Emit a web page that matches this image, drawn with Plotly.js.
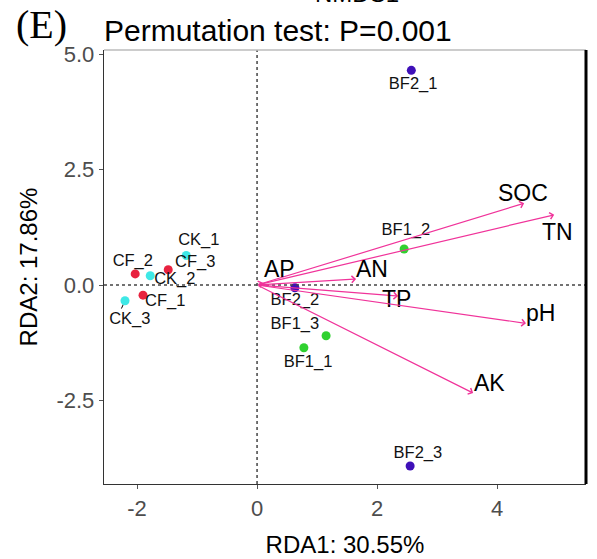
<!DOCTYPE html>
<html>
<head>
<meta charset="utf-8">
<script src="https://cdn.plot.ly/plotly-3.0.1.min.js"></script>
<style>html,body{margin:0;padding:0;background:#fff;}#chart{width:597px;height:559px;}</style>
</head>
<body>
<div id="chart"></div>
<script>
// ---- sample scores ----
const groups = ["BF2", "BF1", "CK", "CF"];
const groupColors = {BF2: "#3f10b8", BF1: "#2fd12f", CK: "#3ee8e6", CF: "#e8223f"};
const sampleNames = ["BF2_1","BF2_2","BF2_3","BF1_1","BF1_2","BF1_3","CK_1","CK_2","CK_3","CF_1","CF_2","CF_3"];
const sampleGroup = ["BF2","BF2","BF2","BF1","BF1","BF1","CK","CK","CK","CF","CF","CF"];
const sampleX = [2.57, 0.63, 2.55, 0.78, 2.45, 1.15, -1.18, -1.78, -2.20, -1.90, -2.03, -1.48];
const sampleY = [4.65, -0.06, -3.92, -1.36, 0.78, -1.10, 0.64, 0.20, -0.34, -0.22, 0.24, 0.33];
// label positions (repelled)
const labelX = [2.60, 0.63, 2.68, 0.85, 2.48, 0.63, -0.97, -1.37, -2.12, -1.53, -2.07, -1.03];
const labelY = [4.33, -0.35, -3.66, -1.69, 1.17, -0.87, 0.95, 0.11, -0.76, -0.37, 0.50, 0.48];

// ---- environmental vectors ----
const envNames = ["SOC", "TN", "AN", "AP", "TP", "pH", "AK"];
const envX = [4.45, 4.95, 1.65, 0.10, 2.35, 4.48, 3.60];
const envY = [1.77, 1.52, 0.13, 0.05, -0.24, -0.83, -2.34];
const envLabX = [4.43, 5.00, 1.92, 0.38, 2.32, 4.73, 3.87];
const envLabY = [1.99, 1.15, 0.35, 0.35, -0.30, -0.61, -2.12];

// ---- axes ----
const xTicks = [-2, 0, 2, 4];
const yTicks = [-2.5, 0, 2.5, 5];
const yTickText = ["-2.5", "0.0", "2.5", "5.0"];

const FONT = "Liberation Sans, Arial, sans-serif";
const traces = [];

// small repel segment for CK_3
const ck3 = sampleNames.indexOf("CK_3");
traces.push({
  x: [sampleX[ck3], sampleX[ck3] - 0.06], y: [sampleY[ck3], sampleY[ck3] - 0.17],
  mode: "lines", line: {color: "#000", width: 1}, hoverinfo: "skip", showlegend: false
});

groups.forEach(g => {
  const idx = sampleGroup.map((v, i) => v === g ? i : -1).filter(i => i >= 0);
  traces.push({
    x: idx.map(i => sampleX[i]), y: idx.map(i => sampleY[i]),
    mode: "markers", type: "scatter", name: g,
    marker: {color: groupColors[g], size: 9},
    showlegend: false
  });
});

traces.push({
  x: labelX, y: labelY, text: sampleNames, mode: "text", type: "scatter",
  textfont: {family: FONT, size: 16.5, color: "#111"}, showlegend: false, hoverinfo: "skip"
});

const annotations = [];
envNames.forEach((n, i) => {
  annotations.push({
    x: envX[i], y: envY[i], ax: 0, ay: 0, axref: "x", ayref: "y", xref: "x", yref: "y",
    text: "", showarrow: true, arrowhead: 4, arrowsize: 1.1, arrowwidth: 1.2, arrowcolor: "#f0339a"
  });
  annotations.push({
    x: envLabX[i], y: envLabY[i], xref: "x", yref: "y", text: n, showarrow: false,
    font: {family: FONT, size: 23, color: "#000"}
  });
});

annotations.push({
  xref: "paper", yref: "paper", x: -0.13, y: 1.058, xanchor: "center", yanchor: "middle",
  text: "(E)", showarrow: false, font: {family: "Liberation Serif, Times New Roman, serif", size: 40, color: "#000"}
});
annotations.push({
  xref: "paper", yref: "paper", x: 0.525, y: 1.13, xanchor: "center", yanchor: "middle",
  text: "NMDS1", showarrow: false, font: {family: FONT, size: 24, color: "#000"}
});

const layout = {
  width: 597, height: 559,
  margin: {l: 104, r: 11, t: 50, b: 75},
  paper_bgcolor: "#fff", plot_bgcolor: "#fff",
  title: {text: "Permutation test: P=0.001", x: 0, xref: "paper", xanchor: "left",
          y: 1 - 30/559, yanchor: "middle", font: {family: FONT, size: 30, color: "#000"}},
  xaxis: {
    range: [-2.55, 5.48], tickvals: xTicks, ticktext: xTicks.map(String),
    showgrid: false, zeroline: false, showline: true, linecolor: "#333", linewidth: 1.3,
    ticks: "outside", ticklen: 4, tickcolor: "#555",
    tickfont: {family: FONT, size: 22, color: "#4d4d4d"},
    title: {text: "RDA1: 30.55%", font: {family: FONT, size: 24, color: "#000"}, standoff: 16}
  },
  yaxis: {
    range: [-4.31, 5.09], tickvals: yTicks, ticktext: yTickText,
    showgrid: false, zeroline: false, showline: true, linecolor: "#333", linewidth: 1.3,
    ticks: "outside", ticklen: 4, tickcolor: "#555",
    tickfont: {family: FONT, size: 22, color: "#4d4d4d"},
    title: {text: "RDA2: 17.86%", font: {family: FONT, size: 24, color: "#000"}, standoff: 12}
  },
  shapes: [
    {type: "line", xref: "x", yref: "paper", x0: 0, x1: 0, y0: 0, y1: 1, line: {color: "#444", width: 1.5, dash: "dot"}},
    {type: "line", xref: "paper", yref: "y", x0: 0, x1: 1, y0: 0, y1: 0, line: {color: "#444", width: 1.5, dash: "dot"}},
    {type: "line", xref: "paper", yref: "paper", x0: 0, x1: 1, y0: 1, y1: 1, line: {color: "#bbb", width: 1.3}},
    {type: "line", xref: "paper", yref: "paper", x0: 1, x1: 1, y0: 0, y1: 1, line: {color: "#000", width: 3}}
  ],
  annotations: annotations,
  showlegend: false
};

Plotly.newPlot("chart", traces, layout, {displayModeBar: false, staticPlot: true});
</script>
</body>
</html>
